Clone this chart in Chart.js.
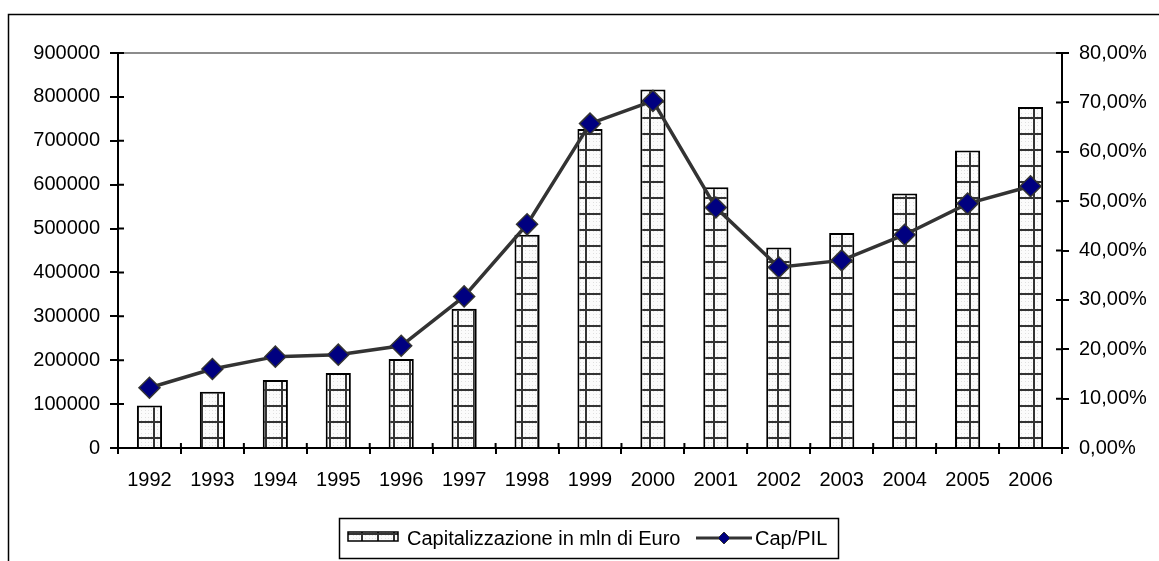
<!DOCTYPE html>
<html>
<head>
<meta charset="utf-8">
<script src="https://cdn.jsdelivr.net/npm/chart.js@4.4.1/dist/chart.umd.min.js"></script>
<style>
  html, body { margin: 0; padding: 0; background: #fff; }
  #wrap { width: 1159px; height: 561px; position: relative; }
</style>
</head>
<body>
<div id="wrap"><canvas id="c" width="1159" height="561"></canvas></div>
<script>
const categories = ['1992','1993','1994','1995','1996','1997','1998','1999','2000','2001','2002','2003','2004','2005','2006'];
const capValues = [97000, 128000, 155000, 171000, 203000, 317000, 486000, 727000, 817000, 594000, 457000, 490000, 580000, 678000, 777000];
const capPilValues = [12.2, 16.0, 18.5, 18.9, 20.7, 30.7, 45.3, 65.7, 70.3, 48.7, 36.6, 38.0, 43.2, 49.5, 53.0];
const leftTickLabels = ['0','100000','200000','300000','400000','500000','600000','700000','800000','900000'];
const rightTickLabels = ['0,00%','10,00%','20,00%','30,00%','40,00%','50,00%','60,00%','70,00%','80,00%'];
const seriesNames = ['Capitalizzazione in mln di Euro', 'Cap/PIL'];

const FONT = '"Liberation Sans", Arial, sans-serif';
const FSIZE = 20;

function makePattern() {
  const p = document.createElement('canvas');
  p.width = 16; p.height = 16;
  const g = p.getContext('2d');
  g.fillStyle = '#fbfbfb';
  g.fillRect(0, 0, 16, 16);
  g.fillStyle = '#e0e0e0';
  for (let y = 1; y < 16; y += 3) for (let x = 1; x < 16; x += 3) g.fillRect(x, y, 1, 1);
  g.fillStyle = '#333333';
  g.fillRect(9, 0, 2, 16);
  g.fillRect(0, 5, 16, 2);
  return document.createElement('canvas').getContext('2d').createPattern(p, 'repeat');
}
const barPattern = makePattern();

const decor = {
  id: 'decor',
  afterDraw(chart) {
    const ctx = chart.ctx;
    const a = chart.chartArea;
    const x = chart.scales.x, y = chart.scales.y, y1 = chart.scales.y1;
    ctx.save();
    // outer border
    ctx.strokeStyle = '#000';
    ctx.lineWidth = 1.5;
    ctx.strokeRect(8.5, 14.5, 1300, 700);
    // top plot line
    ctx.strokeStyle = '#8c8c8c';
    ctx.lineWidth = 2;
    ctx.beginPath(); ctx.moveTo(a.left, a.top); ctx.lineTo(a.right, a.top); ctx.stroke();
    // inner tick stubs
    ctx.strokeStyle = '#000';
    ctx.lineWidth = 2;
    ctx.beginPath();
    y.ticks.forEach(t => { const py = y.getPixelForValue(t.value); ctx.moveTo(a.left, py); ctx.lineTo(a.left + 6, py); });
    y1.ticks.forEach(t => { const py = y1.getPixelForValue(t.value); ctx.moveTo(a.right, py); ctx.lineTo(a.right - 6, py); });
    for (let i = 0; i <= categories.length; i++) {
      const px = x.getPixelForValue(i - 0.5);
      ctx.moveTo(px, a.bottom); ctx.lineTo(px, a.bottom - 5);
    }
    ctx.stroke();
    // legend
    ctx.lineWidth = 1.5;
    ctx.strokeStyle = '#000';
    ctx.strokeRect(339.5, 518.5, 499, 40);
    ctx.fillStyle = barPattern;
    ctx.fillRect(348, 532, 50, 9);
    ctx.lineWidth = 1.5;
    ctx.strokeRect(348, 532, 50, 9);
    ctx.fillStyle = '#000';
    ctx.font = FSIZE + 'px ' + FONT;
    ctx.textBaseline = 'middle';
    ctx.textAlign = 'left';
    ctx.fillText(seriesNames[0], 407, 539);
    ctx.strokeStyle = '#333';
    ctx.lineWidth = 3;
    ctx.beginPath(); ctx.moveTo(696, 538); ctx.lineTo(752, 538); ctx.stroke();
    ctx.fillStyle = '#000080';
    ctx.strokeStyle = '#333';
    ctx.lineWidth = 1;
    ctx.beginPath();
    ctx.moveTo(724, 532); ctx.lineTo(730, 538); ctx.lineTo(724, 544); ctx.lineTo(718, 538); ctx.closePath();
    ctx.fill(); ctx.stroke();
    ctx.fillStyle = '#000';
    ctx.fillText(seriesNames[1], 755, 539);
    ctx.restore();
  }
};

new Chart(document.getElementById('c'), {
  data: {
    labels: categories,
    datasets: [
      {
        type: 'line',
        label: seriesNames[1],
        data: capPilValues,
        yAxisID: 'y1',
        borderColor: '#333333',
        borderWidth: 3.5,
        pointStyle: 'rectRot',
        pointRadius: 10.5,
        pointBackgroundColor: '#000080',
        pointBorderColor: '#333333',
        pointBorderWidth: 1.5,
        tension: 0,
        order: 0
      },
      {
        type: 'bar',
        label: seriesNames[0],
        data: capValues,
        yAxisID: 'y',
        backgroundColor: barPattern,
        borderColor: '#000',
        borderWidth: 2,
        barPercentage: 0.4,
        categoryPercentage: 1,
        order: 1
      }
    ]
  },
  options: {
    responsive: false,
    animation: false,
    devicePixelRatio: 1,
    layout: { padding: { top: 53, left: 0, right: 0, bottom: 73 } },
    plugins: { legend: { display: false }, tooltip: { enabled: false } },
    scales: {
      x: {
        offset: true,
        grid: { display: true, drawOnChartArea: false, offset: true, tickLength: 6, color: '#000', lineWidth: 2 },
        border: { display: true, color: '#000', width: 2 },
        ticks: { color: '#000', font: { family: FONT, size: FSIZE }, padding: 14, maxRotation: 0 },
        afterFit(s) { s.height = 40; }
      },
      y: {
        position: 'left',
        min: 0, max: 900000,
        grid: { display: true, drawOnChartArea: false, tickLength: 8, color: '#000', lineWidth: 2 },
        border: { display: true, color: '#000', width: 2 },
        ticks: { stepSize: 100000, color: '#000', font: { family: FONT, size: FSIZE }, padding: 10,
          callback: (v, i) => leftTickLabels[i] },
        afterFit(s) { s.width = 118; }
      },
      y1: {
        position: 'right',
        min: 0, max: 80,
        grid: { display: true, drawOnChartArea: false, tickLength: 7, color: '#000', lineWidth: 2 },
        border: { display: true, color: '#000', width: 2 },
        ticks: { stepSize: 10, color: '#000', font: { family: FONT, size: FSIZE }, padding: 10,
          callback: (v, i) => rightTickLabels[i] },
        afterFit(s) { s.width = 97; }
      }
    }
  },
  plugins: [decor]
});
</script>
</body>
</html>
